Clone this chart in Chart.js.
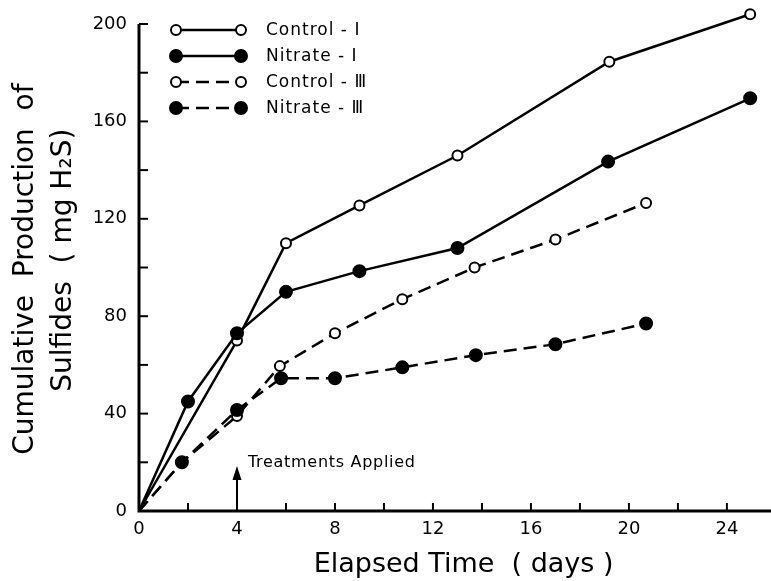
<!DOCTYPE html>
<html>
<head>
  <title>Cumulative Production of Sulfides</title>
  <script src="https://cdn.jsdelivr.net/npm/chart.js"></script>
  <style>
    body { margin: 0; background: #fff; }
    #wrap { width: 771px; height: 581px; }
  </style>
</head>
<body>
  <div id="wrap"><canvas id="sulfideChart" width="771" height="581"></canvas></div>

  <script>
    // values (days, mg H2S)
    const control1Days = [0, 4, 6, 9, 13, 19.2, 24.95];
    const control1Values = [0, 70, 110, 125.5, 146, 184.5, 204];
    const nitrate1Days = [0, 2, 4, 6, 9, 13, 19.15, 24.95];
    const nitrate1Values = [0, 45, 73, 90, 98.5, 108, 143.5, 169.5];
    const control3Days = [0, 1.75, 4, 5.75, 8, 10.75, 13.7, 17, 20.7];
    const control3Values = [0, 20, 39, 59.5, 73, 87, 100, 111.5, 126.5];
    const nitrate3Days = [0, 1.75, 4, 5.8, 8, 10.75, 13.75, 17, 20.7];
    const nitrate3Values = [0, 20, 41.5, 54.5, 54.5, 59, 64, 68.5, 77];

    const seriesLabels = ["Control - \u2160", "Nitrate - \u2160", "Control - \u2162", "Nitrate - \u2162"];
    const xTickLabels = [0, 4, 8, 12, 16, 20, 24];
    const xMinorTicks = [0, 2, 4, 6, 8, 10, 12, 14, 16, 18, 20, 22, 24];
    const yTickLabels = [0, 40, 80, 120, 160, 200];
    const yMinorTicks = [0, 20, 40, 60, 80, 100, 120, 140, 160, 180, 200];
    const yAxisTop = 200;
    const treatmentDay = 4;

    const FONT = "'DejaVu Sans', sans-serif";
    const DASH = [13, 7];

    function toPoints(xs, ys) {
      return xs.map((x, i) => ({ x: x, y: ys[i] }));
    }

    function makeSet(label, xs, ys, filled, dashed) {
      return {
        label: label,
        data: toPoints(xs, ys),
        order: filled ? 0 : 1, // filled dots sit on top of the open ones
        borderColor: "#000",
        borderWidth: 2.5,
        borderDash: dashed ? DASH : [],
        backgroundColor: filled ? "#000" : "#fff",
        pointBackgroundColor: filled ? "#000" : "#fff",
        pointBorderColor: "#000",
        pointBorderWidth: 2,
        pointRadius: ctx => ctx.dataIndex === 0 ? 0 : (filled ? 6 : 5),
        pointHoverRadius: ctx => ctx.dataIndex === 0 ? 0 : (filled ? 6 : 5),
        fill: false,
        tension: 0,
        clip: false,
        _filled: filled,
        _dashed: dashed
      };
    }

    // axes with inward ticks, legend and the "Treatments Applied" arrow
    const decorations = {
      id: "decorations",
      afterDraw(chart) {
        const ctx = chart.ctx;
        const area = chart.chartArea;
        const xs = chart.scales.x, ys = chart.scales.y;
        const top = ys.getPixelForValue(yAxisTop);
        ctx.save();
        ctx.strokeStyle = "#000";
        ctx.fillStyle = "#000";
        ctx.lineWidth = 3;
        ctx.setLineDash([]);

        ctx.beginPath();
        ctx.moveTo(area.left, top);
        ctx.lineTo(area.left, area.bottom);
        ctx.lineTo(area.right, area.bottom);
        ctx.stroke();

        ctx.lineWidth = 2;
        xMinorTicks.forEach(v => {
          const px = xs.getPixelForValue(v);
          ctx.beginPath();
          ctx.moveTo(px, area.bottom);
          ctx.lineTo(px, area.bottom - 8);
          ctx.stroke();
        });
        yMinorTicks.forEach(v => {
          const py = ys.getPixelForValue(v);
          ctx.beginPath();
          ctx.moveTo(area.left, py);
          ctx.lineTo(area.left + 9, py);
          ctx.stroke();
        });

        // arrow
        const ax = xs.getPixelForValue(treatmentDay);
        const tipY = area.bottom - 45;
        ctx.beginPath();
        ctx.moveTo(ax, area.bottom);
        ctx.lineTo(ax, tipY + 10);
        ctx.stroke();
        ctx.beginPath();
        ctx.moveTo(ax, tipY);
        ctx.lineTo(ax - 4.5, tipY + 14);
        ctx.lineTo(ax + 4.5, tipY + 14);
        ctx.closePath();
        ctx.fill();
        ctx.font = "16px " + FONT;
        ctx.letterSpacing = "0.7px";
        ctx.textBaseline = "middle";
        ctx.textAlign = "left";
        ctx.fillText("Treatments Applied", ax + 11, tipY - 3);

        // legend
        const lx0 = 176, lx1 = 241, ly0 = 30, lstep = 26;
        ctx.font = "17px " + FONT;
        ctx.letterSpacing = "1px";
        chart.data.datasets.forEach((ds, i) => {
          const y = ly0 + i * lstep;
          ctx.lineWidth = 2.5;
          ctx.setLineDash(ds._dashed ? DASH : []);
          ctx.beginPath();
          ctx.moveTo(lx0, y);
          ctx.lineTo(lx1, y);
          ctx.stroke();
          ctx.setLineDash([]);
          ctx.lineWidth = 2;
          [lx0, lx1].forEach(px => {
            ctx.beginPath();
            ctx.arc(px, y, ds._filled ? 6 : 5, 0, Math.PI * 2);
            ctx.fillStyle = ds._filled ? "#000" : "#fff";
            ctx.fill();
            ctx.stroke();
          });
          ctx.fillStyle = "#000";
          ctx.fillText(ds.label, 266, y + 1);
        });
        ctx.restore();
      }
    };

    new Chart(document.getElementById("sulfideChart"), {
      type: "line",
      data: {
        datasets: [
          makeSet(seriesLabels[0], control1Days, control1Values, false, false),
          makeSet(seriesLabels[1], nitrate1Days, nitrate1Values, true, false),
          makeSet(seriesLabels[2], control3Days, control3Values, false, true),
          makeSet(seriesLabels[3], nitrate3Days, nitrate3Values, true, true)
        ]
      },
      options: {
        responsive: false,
        animation: false,
        devicePixelRatio: 1,
        layout: { autoPadding: false, padding: { top: 9.4, right: 0, left: 0, bottom: 0 } },
        plugins: {
          legend: { display: false },
          tooltip: { enabled: false }
        },
        scales: {
          x: {
            type: "linear",
            min: 0,
            max: 25.8,
            afterBuildTicks: s => { s.ticks = xMinorTicks.map(v => ({ value: v })); },
            afterFit: s => { s.height = 70; s.paddingLeft = 0; s.paddingRight = 0; },
            grid: { display: false, drawTicks: false },
            border: { display: false },
            ticks: {
              autoSkip: false,
              maxRotation: 0,
              padding: 8,
              color: "#000",
              font: { size: 18, family: FONT },
              callback: v => xTickLabels.includes(v) ? String(v) : ""
            },
            title: {
              display: true,
              text: "  Elapsed Time  ( days )",
              color: "#000",
              font: { size: 27, family: FONT },
              padding: { top: 0, bottom: 0 }
            }
          },
          y: {
            type: "linear",
            min: 0,
            max: 206,
            afterBuildTicks: s => { s.ticks = yMinorTicks.map(v => ({ value: v })); },
            afterFit: s => { s.width = 139; s.paddingTop = 0; s.paddingBottom = 0; },
            grid: { display: false, drawTicks: false },
            border: { display: false },
            ticks: {
              autoSkip: false,
              padding: 12,
              color: "#000",
              font: { size: 18, family: FONT },
              callback: v => yTickLabels.includes(v) ? String(v) : ""
            },
            title: {
              display: true,
              text: ["Cumulative  Production  of  ", "Sulfides  ( mg H\u2082S)"],
              color: "#000",
              font: { size: 28, family: FONT, lineHeight: 1.36 },
              padding: { top: 7, bottom: 0 }
            }
          }
        }
      },
      plugins: [decorations]
    });
  </script>
</body>
</html>
